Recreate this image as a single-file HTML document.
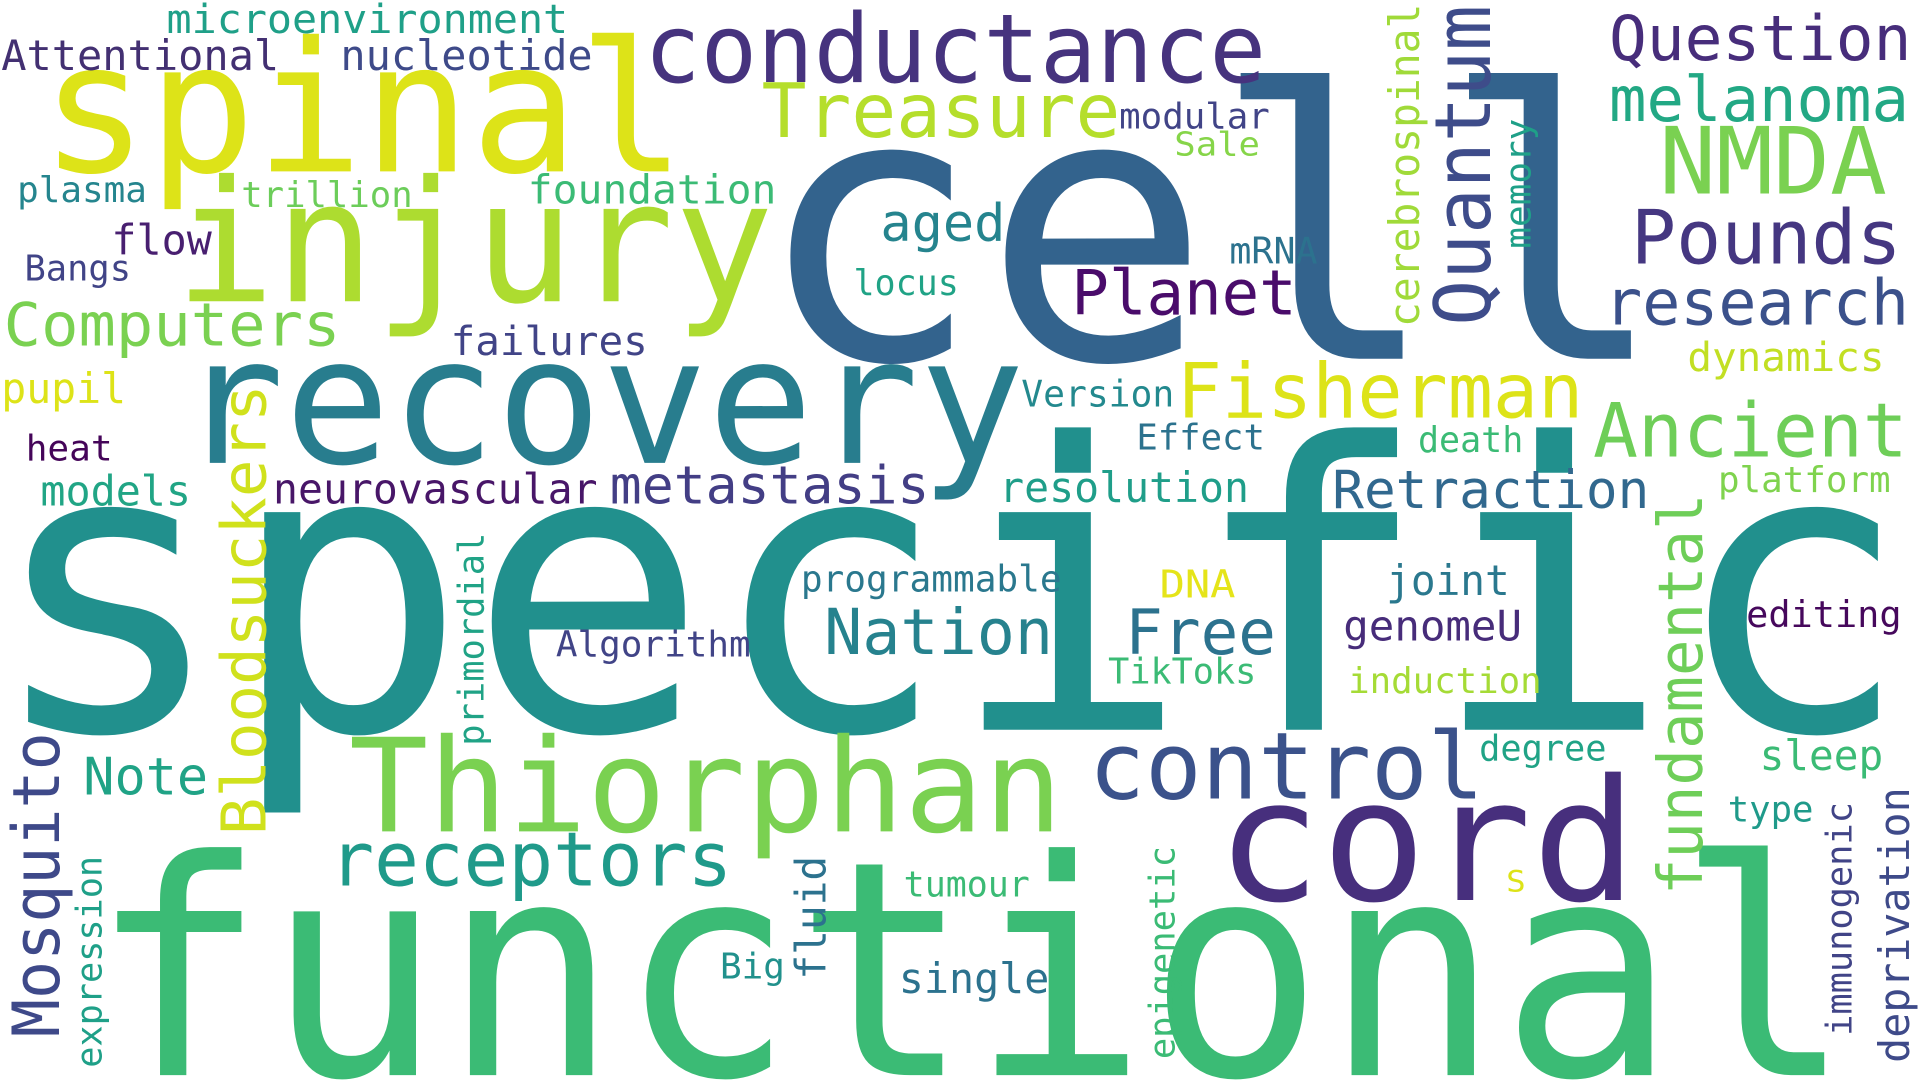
<!DOCTYPE html>
<html><head><meta charset="utf-8"><title>Word cloud</title>
<style>
html,body{margin:0;padding:0;background:#fff;width:1920px;height:1080px;overflow:hidden}
svg{display:block;overflow:hidden}
text{font-family:"DejaVu Sans Mono","Liberation Mono",monospace;}
</style></head>
<body>
<svg width="1920" height="1080" viewBox="0 0 1568 882" preserveAspectRatio="none" xmlns="http://www.w3.org/2000/svg">
<rect x="0" y="0" width="1568" height="882" fill="#ffffff"/>
<g>
<text x="616" y="293" font-size="305" fill="#33638d" textLength="746" lengthAdjust="spacingAndGlyphs">cell</text>
<text x="-11" y="596" font-size="325" fill="#21908d" textLength="1572" lengthAdjust="spacingAndGlyphs">specific</text>
<text x="73" y="878" font-size="245" fill="#3bbb75" textLength="1440" lengthAdjust="spacingAndGlyphs">functional</text>
<text x="33" y="140" font-size="148" fill="#dde318" textLength="527" lengthAdjust="spacingAndGlyphs">spinal</text>
<text x="143" y="246" font-size="138" fill="#addc30" textLength="489" lengthAdjust="spacingAndGlyphs">injury</text>
<text x="526" y="67" font-size="78" fill="#46337e" textLength="508" lengthAdjust="spacingAndGlyphs">conductance</text>
<text x="622" y="112" font-size="61" fill="#b5de2b" textLength="293" lengthAdjust="spacingAndGlyphs">Treasure</text>
<text x="914" y="105" font-size="29" fill="#414487" textLength="123" lengthAdjust="spacingAndGlyphs">modular</text>
<text x="959" y="127" font-size="27" fill="#86d549" textLength="70" lengthAdjust="spacingAndGlyphs">Sale</text>
<text x="136" y="27" font-size="33" fill="#1fa088" textLength="328" lengthAdjust="spacingAndGlyphs">microenvironment</text>
<text x="1" y="57" font-size="34" fill="#433072" textLength="227" lengthAdjust="spacingAndGlyphs">Attentional</text>
<text x="278" y="57" font-size="34" fill="#3e4a89" textLength="206" lengthAdjust="spacingAndGlyphs">nucleotide</text>
<text x="14" y="165" font-size="29" fill="#25858e" textLength="106" lengthAdjust="spacingAndGlyphs">plasma</text>
<text x="197" y="169" font-size="29" fill="#6ccd5a" textLength="140" lengthAdjust="spacingAndGlyphs">trillion</text>
<text x="431" y="166" font-size="33" fill="#3bbb75" textLength="203" lengthAdjust="spacingAndGlyphs">foundation</text>
<text x="91" y="208" font-size="34" fill="#481f70" textLength="82" lengthAdjust="spacingAndGlyphs">flow</text>
<text x="20" y="229" font-size="29" fill="#414487" textLength="87" lengthAdjust="spacingAndGlyphs">Bangs</text>
<text x="3" y="282" font-size="49" fill="#7ad151" textLength="275" lengthAdjust="spacingAndGlyphs">Computers</text>
<text x="368" y="290" font-size="33" fill="#414487" textLength="161" lengthAdjust="spacingAndGlyphs">failures</text>
<text x="719" y="197" font-size="42" fill="#25848e" textLength="102" lengthAdjust="spacingAndGlyphs">aged</text>
<text x="697" y="241" font-size="29" fill="#20a386" textLength="86" lengthAdjust="spacingAndGlyphs">locus</text>
<text x="875" y="257" font-size="51" fill="#4a0c6b" textLength="184" lengthAdjust="spacingAndGlyphs">Planet</text>
<text x="1004" y="215" font-size="30" fill="#2c728e" textLength="72" lengthAdjust="spacingAndGlyphs">mRNA</text>
<text x="1314" y="49" font-size="51" fill="#472d7b" textLength="247" lengthAdjust="spacingAndGlyphs">Question</text>
<text x="1314" y="99" font-size="51" fill="#22a884" textLength="245" lengthAdjust="spacingAndGlyphs">melanoma</text>
<text x="1355" y="158" font-size="76" fill="#7ad151" textLength="186" lengthAdjust="spacingAndGlyphs">NMDA</text>
<text x="1332" y="215" font-size="61" fill="#453781" textLength="221" lengthAdjust="spacingAndGlyphs">Pounds</text>
<text x="1310" y="265" font-size="52" fill="#3b518b" textLength="249" lengthAdjust="spacingAndGlyphs">research</text>
<text x="1378" y="303" font-size="33" fill="#c2df23" textLength="161" lengthAdjust="spacingAndGlyphs">dynamics</text>
<text x="146" y="378" font-size="144" fill="#287d8e" textLength="691" lengthAdjust="spacingAndGlyphs">recovery</text>
<text x="1" y="329" font-size="34" fill="#dde318" textLength="102" lengthAdjust="spacingAndGlyphs">pupil</text>
<text x="21" y="376" font-size="29" fill="#450559" textLength="71" lengthAdjust="spacingAndGlyphs">heat</text>
<text x="33" y="413" font-size="34" fill="#21a585" textLength="123" lengthAdjust="spacingAndGlyphs">models</text>
<text x="223" y="411" font-size="34" fill="#481668" textLength="265" lengthAdjust="spacingAndGlyphs">neurovascular</text>
<text x="498" y="411" font-size="43" fill="#433e85" textLength="261" lengthAdjust="spacingAndGlyphs">metastasis</text>
<text x="834" y="332" font-size="30" fill="#23898e" textLength="125" lengthAdjust="spacingAndGlyphs">Version</text>
<text x="961" y="341" font-size="62" fill="#dde318" textLength="332" lengthAdjust="spacingAndGlyphs">Fisherman</text>
<text x="928" y="367" font-size="29" fill="#2c728e" textLength="105" lengthAdjust="spacingAndGlyphs">Effect</text>
<text x="816" y="410" font-size="34" fill="#1f9e89" textLength="204" lengthAdjust="spacingAndGlyphs">resolution</text>
<text x="1158" y="369" font-size="29" fill="#3bbb75" textLength="86" lengthAdjust="spacingAndGlyphs">death</text>
<text x="1301" y="373" font-size="61" fill="#6ece58" textLength="257" lengthAdjust="spacingAndGlyphs">Ancient</text>
<text x="1403" y="402" font-size="29" fill="#7fd34e" textLength="141" lengthAdjust="spacingAndGlyphs">platform</text>
<text x="1088" y="415" font-size="43" fill="#31688e" textLength="259" lengthAdjust="spacingAndGlyphs">Retraction</text>
<text x="654" y="483" font-size="30" fill="#2a788e" textLength="213" lengthAdjust="spacingAndGlyphs">programmable</text>
<text x="947" y="488" font-size="31" fill="#e5e419" textLength="62" lengthAdjust="spacingAndGlyphs">DNA</text>
<text x="673" y="534" font-size="52" fill="#26828e" textLength="187" lengthAdjust="spacingAndGlyphs">Nation</text>
<text x="919" y="534" font-size="51" fill="#2c728e" textLength="123" lengthAdjust="spacingAndGlyphs">Free</text>
<text x="454" y="536" font-size="29" fill="#414487" textLength="159" lengthAdjust="spacingAndGlyphs">Algorithm</text>
<text x="905" y="558" font-size="29" fill="#3bbb75" textLength="121" lengthAdjust="spacingAndGlyphs">TikToks</text>
<text x="1132" y="486" font-size="34" fill="#2a788e" textLength="101" lengthAdjust="spacingAndGlyphs">joint</text>
<text x="1097" y="523" font-size="34" fill="#472c7a" textLength="146" lengthAdjust="spacingAndGlyphs">genomeU</text>
<text x="1101" y="566" font-size="29" fill="#a5db36" textLength="158" lengthAdjust="spacingAndGlyphs">induction</text>
<text x="1426" y="512" font-size="30" fill="#46085c" textLength="127" lengthAdjust="spacingAndGlyphs">editing</text>
<text x="285" y="679" font-size="106" fill="#7ad151" textLength="583" lengthAdjust="spacingAndGlyphs">Thiorphan</text>
<text x="889" y="652" font-size="76" fill="#3b528b" textLength="323" lengthAdjust="spacingAndGlyphs">control</text>
<text x="269" y="723" font-size="61" fill="#1f9a8a" textLength="329" lengthAdjust="spacingAndGlyphs">receptors</text>
<text x="68" y="649" font-size="42" fill="#20a386" textLength="102" lengthAdjust="spacingAndGlyphs">Note</text>
<text x="993" y="735" font-size="138" fill="#472f7d" textLength="344" lengthAdjust="spacingAndGlyphs">cord</text>
<text x="1208" y="621" font-size="29" fill="#20a386" textLength="104" lengthAdjust="spacingAndGlyphs">degree</text>
<text x="1437" y="629" font-size="34" fill="#3bbb75" textLength="101" lengthAdjust="spacingAndGlyphs">sleep</text>
<text x="1411" y="671" font-size="29" fill="#1f9a8a" textLength="70" lengthAdjust="spacingAndGlyphs">type</text>
<text x="1230" y="728" font-size="24" fill="#dde318" textLength="16" lengthAdjust="spacingAndGlyphs">S</text>
<text x="738" y="732" font-size="29" fill="#3bbb75" textLength="103" lengthAdjust="spacingAndGlyphs">tumour</text>
<text x="588" y="799" font-size="29" fill="#21918c" textLength="53" lengthAdjust="spacingAndGlyphs">Big</text>
<text x="734" y="811" font-size="34" fill="#2c728e" textLength="123" lengthAdjust="spacingAndGlyphs">single</text>

<text transform="translate(1217,266) rotate(-90)" x="0" y="0" font-size="63" fill="#3e4c8a" textLength="262" lengthAdjust="spacingAndGlyphs">Quantum</text>
<text transform="translate(1159,267) rotate(-90)" x="0" y="0" font-size="34" fill="#a0da39" textLength="264" lengthAdjust="spacingAndGlyphs">cerebrospinal</text>
<text transform="translate(1250,203) rotate(-90)" x="0" y="0" font-size="29" fill="#1fa088" textLength="106" lengthAdjust="spacingAndGlyphs">memory</text>
<text transform="translate(217,682) rotate(-90)" x="0" y="0" font-size="50" fill="#d0e11c" textLength="368" lengthAdjust="spacingAndGlyphs">Bloodsuckers</text>
<text transform="translate(395,609) rotate(-90)" x="0" y="0" font-size="29" fill="#20a386" textLength="174" lengthAdjust="spacingAndGlyphs">primordial</text>
<text transform="translate(48,847) rotate(-90)" x="0" y="0" font-size="53" fill="#3e4989" textLength="249" lengthAdjust="spacingAndGlyphs">Mosquito</text>
<text transform="translate(83,872) rotate(-90)" x="0" y="0" font-size="29" fill="#1fa088" textLength="173" lengthAdjust="spacingAndGlyphs">expression</text>
<text transform="translate(674,800) rotate(-90)" x="0" y="0" font-size="34" fill="#2c728e" textLength="101" lengthAdjust="spacingAndGlyphs">fluid</text>
<text transform="translate(959,865) rotate(-90)" x="0" y="0" font-size="29" fill="#3bbb75" textLength="174" lengthAdjust="spacingAndGlyphs">epigenetic</text>
<text transform="translate(1390,731) rotate(-90)" x="0" y="0" font-size="50" fill="#6ece58" textLength="328" lengthAdjust="spacingAndGlyphs">fundamental</text>
<text transform="translate(1512,846) rotate(-90)" x="0" y="0" font-size="29" fill="#414487" textLength="191" lengthAdjust="spacingAndGlyphs">immunogenic</text>
<text transform="translate(1559,868) rotate(-90)" x="0" y="0" font-size="34" fill="#3e4a89" textLength="225" lengthAdjust="spacingAndGlyphs">deprivation</text>
</g>
</svg>
</body></html>
